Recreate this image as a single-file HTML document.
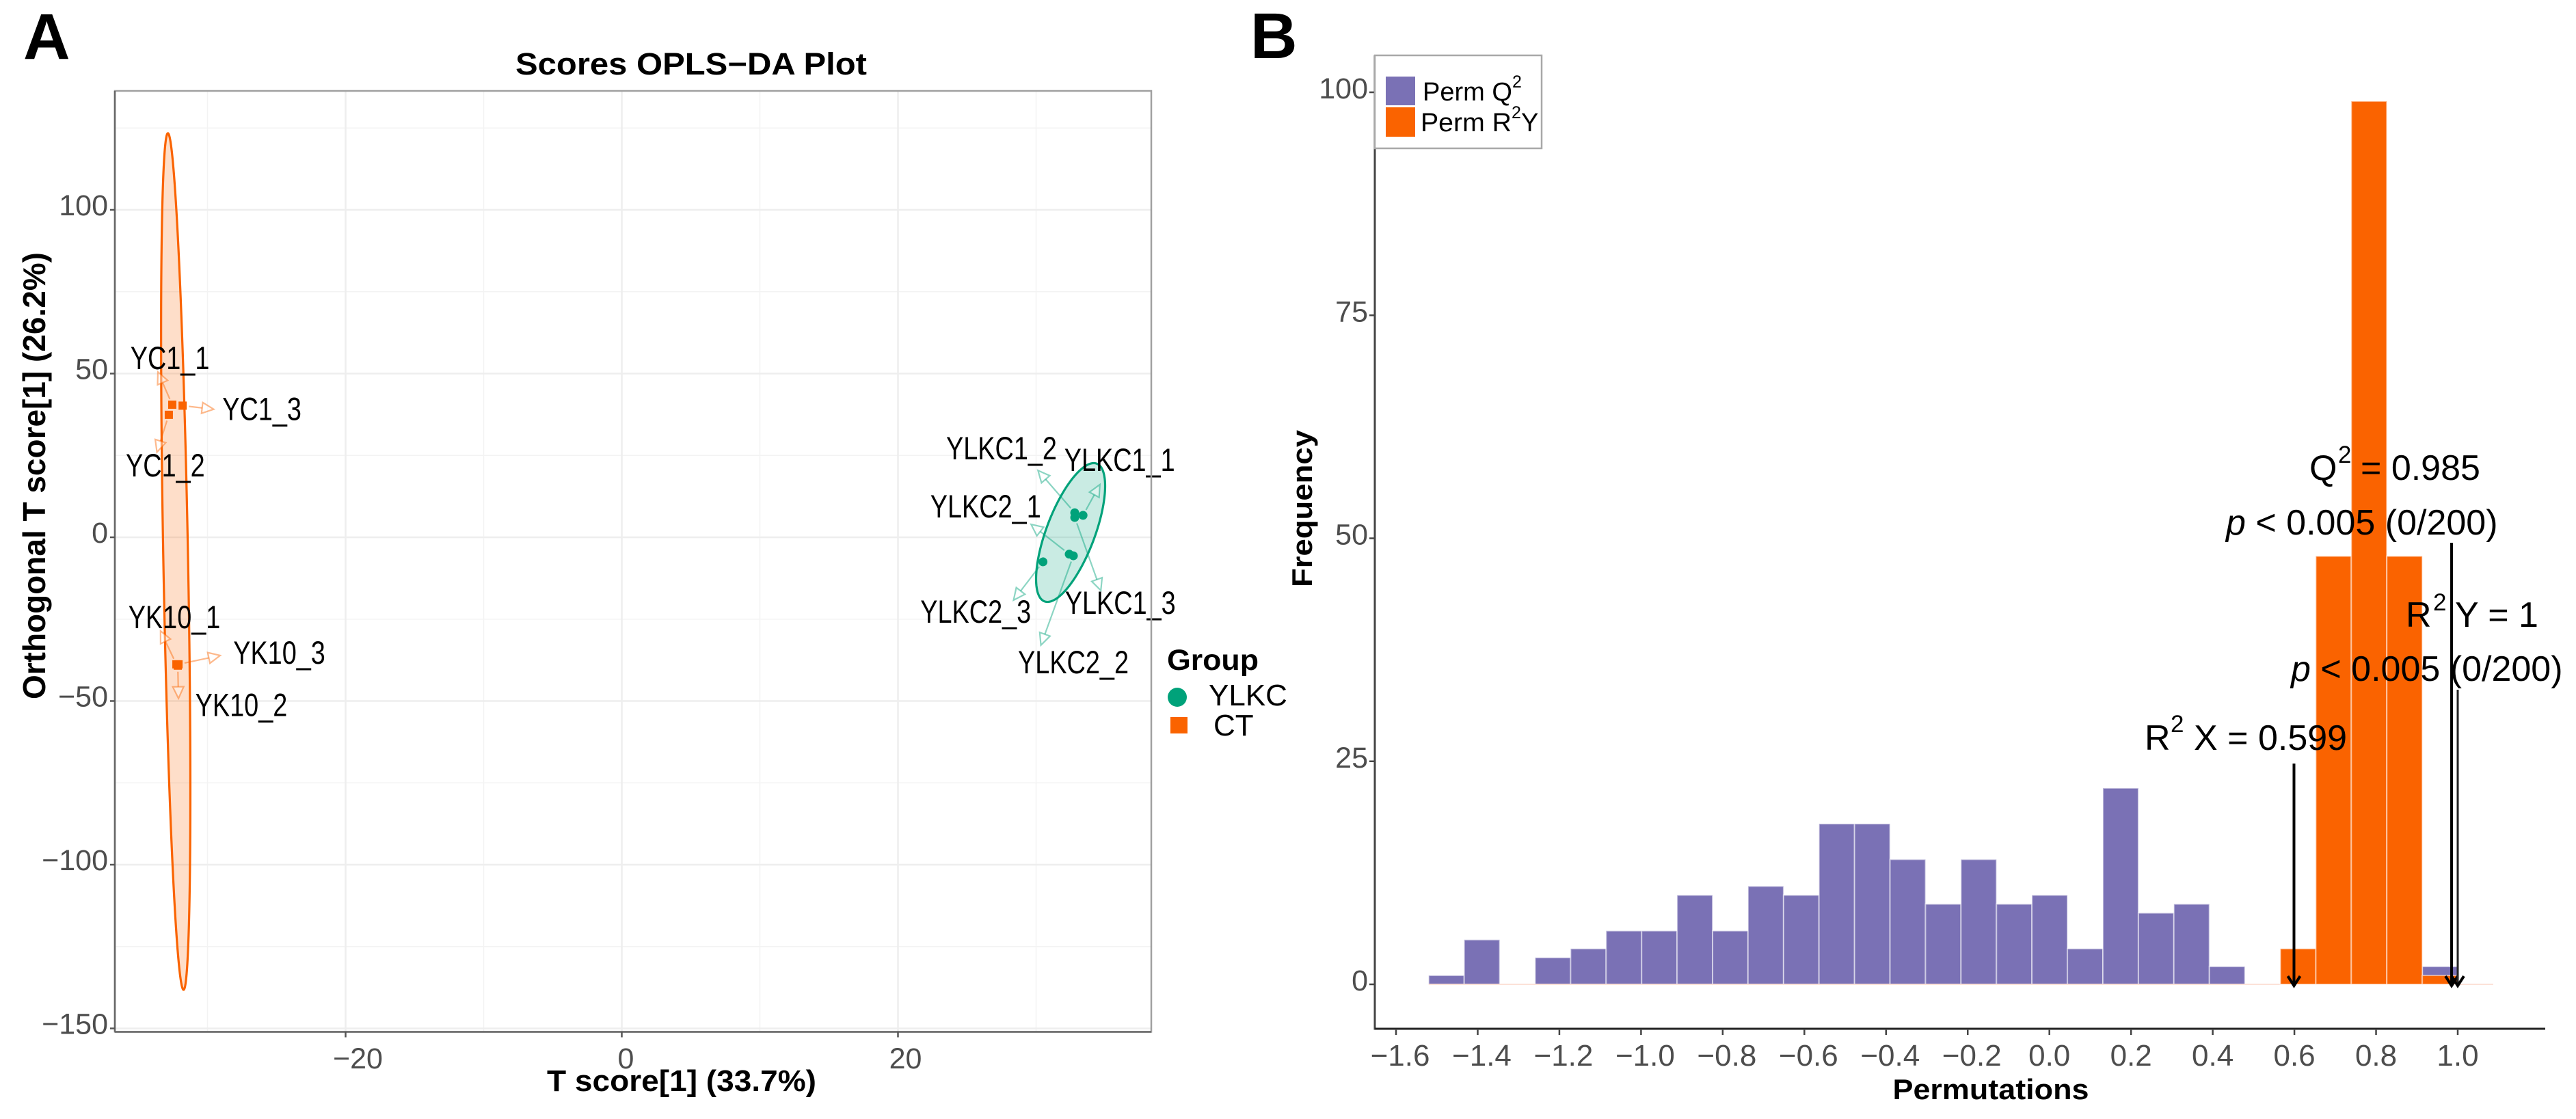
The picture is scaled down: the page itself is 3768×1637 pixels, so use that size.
<!DOCTYPE html>
<html lang="en">
<head>
<meta charset="utf-8">
<title>Scores OPLS-DA Plot and Permutation Test</title>
<style>
html,body{margin:0;padding:0;background:#fff;}
svg{display:block;font-family:"Liberation Sans",Arial,sans-serif;}
</style>
</head>
<body>
<svg id="figure" xmlns="http://www.w3.org/2000/svg" width="3768" height="1637" viewBox="0 0 3768 1637">
  <rect x="0" y="0" width="3768" height="1637" fill="#fff"/>
  <text x="34" y="86" font-size="95" font-weight="700" fill="#000">A</text>
  <text x="1829" y="85" font-size="95" font-weight="700" fill="#000">B</text>

  <g id="panelA"></g>
  <text x="1011" y="109" font-size="45" font-weight="700" text-anchor="middle" textLength="514" lengthAdjust="spacingAndGlyphs" fill="#000">Scores OPLS−DA Plot</text>
  <text x="66" y="696" font-size="46" font-weight="700" text-anchor="middle" textLength="654" lengthAdjust="spacingAndGlyphs" transform="rotate(-90 66 696)" fill="#000">Orthogonal T score[1] (26.2%)</text>
  <text x="997" y="1596" font-size="44" font-weight="700" text-anchor="middle" textLength="394" lengthAdjust="spacingAndGlyphs" fill="#000">T score[1] (33.7%)</text>

  <g>
    <text x="1707" y="980" font-size="43" font-weight="700" textLength="134" lengthAdjust="spacingAndGlyphs" fill="#000">Group</text>
    <ellipse cx="1722" cy="1020" rx="14" ry="14" fill="#00A27A"/>
    <text x="1768" y="1032" font-size="44" fill="#000">YLKC</text>
    <rect x="1712" y="1049" width="25" height="24" fill="#FA6300"/>
    <text x="1775" y="1076" font-size="44" fill="#000">CT</text>
  </g>

  <g id="panelB"></g>
  <text x="2912" y="1608" font-size="42" font-weight="700" text-anchor="middle" textLength="287" lengthAdjust="spacingAndGlyphs" fill="#000">Permutations</text>
  <text x="1919" y="744" font-size="42" font-weight="700" text-anchor="middle" textLength="230" lengthAdjust="spacingAndGlyphs" transform="rotate(-90 1919 744)" fill="#000">Frequency</text>

  <g>
    <rect x="2011" y="81" width="244" height="136" fill="#fff" stroke="#a8a8a8" stroke-width="2.5"/>
    <rect x="2027" y="112" width="43" height="42" fill="#7A71B5"/>
    <rect x="2027" y="157" width="43" height="43" fill="#FA6300"/>
    <text font-size="38" fill="#000"><tspan x="2081" y="147">Perm Q</tspan><tspan x="2212" y="128" font-size="25">2</tspan></text>
    <text font-size="38" fill="#000"><tspan x="2078" y="192" textLength="133" lengthAdjust="spacingAndGlyphs">Perm R</tspan><tspan x="2211" y="173" font-size="25">2</tspan><tspan x="2225" y="192">Y</tspan></text>
  </g>

  <g fill="#000">
    <text font-size="52"><tspan x="3378" y="702">Q</tspan><tspan x="3420" y="677" font-size="35">2</tspan><tspan x="3453" y="702">= 0.985</tspan></text>
    <text x="3256" y="782" font-size="52"><tspan font-style="italic">p</tspan> &lt; 0.005 (0/200)</text>
    <text font-size="52"><tspan x="3519" y="917">R</tspan><tspan x="3559" y="893" font-size="35">2</tspan><tspan x="3591" y="917">Y = 1</tspan></text>
    <text x="3351" y="996" font-size="52"><tspan font-style="italic">p</tspan> &lt; 0.005 (0/200)</text>
    <text font-size="52"><tspan x="3137" y="1097">R</tspan><tspan x="3175" y="1071" font-size="35">2</tspan><tspan x="3209" y="1097">X = 0.599</tspan></text>
  </g>
</svg>

<script>
// ---------- Panel A data ----------
var sampleNames = ['YC1_1','YC1_2','YC1_3','YK10_1','YK10_2','YK10_3','YLKC1_1','YLKC1_2','YLKC1_3','YLKC2_1','YLKC2_2','YLKC2_3'];
var sampleGroups = ['CT','CT','CT','CT','CT','CT','YLKC','YLKC','YLKC','YLKC','YLKC','YLKC'];
var tScores = [-32.55,-32.8,-31.8,-32.25,-32.15,-32.1,33.4,32.8,32.8,32.4,32.7,30.5];
var orthoScores = [40.5,37.4,40.2,-38.8,-39.2,-38.8,6.7,7.5,6.05,-5.15,-5.65,-7.5];
// arrow tips and labels, as offsets from each sample in score units
var arrowOffsetT = [-1.04,-0.86,2.25,-1.15,0.05,3.02,1.22,-2.66,1.89,-2.76,-2.35,-2.13];
var arrowOffsetO = [10.0,-11.4,-1.1,10.2,-10,2.7,9.4,12.9,-22.3,9.1,-27.3,-11.7];
var labelOffsetT = [-0.17,-0.25,5.74,-0.15,4.6,7.3,2.65,-5.3,3.3,-6.05,0,-4.87];
var labelOffsetO = [10.86,-18.8,-4.4,11.06,-15.4,0.2,13.6,16.3,-29.4,11.2,-35.9,-18.6];
// confidence ellipses
var ellipseGroups = ['CT','YLKC'];
var ellipseCenterT = [-32.3,32.5];
var ellipseCenterO = [-7.4,1.46];
var ellipseHalfT = [1.06,2.5];
var ellipseHalfO = [130.8,21.2];
var ellipseCorr = [-0.535,0.67];
// axis ticks
var tMajorTicks = [-20,0,20];
var tMinorTicks = [-30,-10,10,30];
var oMajorTicks = [100,50,0,-50,-100,-150];
var oMinorTicks = [125,75,25,-25,-75,-125];

// ---------- Panel B data ----------
var binStart = -1.52;
var binWidth = 0.0869;
var permQ2Counts = [1,5,0,3,4,6,6,10,6,11,10,18,18,14,9,14,9,10,4,22,8,9,2,0,0,0,0,0,2,0];
var permR2YCounts = [0,0,0,0,0,0,0,0,0,0,0,0,0,0,0,0,0,0,0,0,0,0,0,0,4,48,99,48,1,0];
var permXTicks = [-1.6,-1.4,-1.2,-1.0,-0.8,-0.6,-0.4,-0.2,0.0,0.2,0.4,0.6,0.8,1.0];
var permYTicks = [0,25,50,75,100];
var annotationNames = ['r2x','q2','r2y'];
var annotationValues = [0.599,0.985,1.0];

// ---------- helpers ----------
var NS = 'http://www.w3.org/2000/svg';
function make(parent, tag, attrs, text) {
  var el = document.createElementNS(NS, tag);
  for (var k in attrs) el.setAttribute(k, attrs[k]);
  if (text !== undefined) el.textContent = text;
  parent.appendChild(el);
  return el;
}
function minusText(v, digits) {
  var s = Math.abs(v).toFixed(digits);
  return (v < 0 ? '\u2212' : '') + s;
}
var COLORS = {CT:'#FA6300', YLKC:'#00A27A'};

// ---------- Panel A ----------
var A = document.getElementById('panelA');
var aBox = {left:168, right:1684, top:133, bottom:1509.5};
function xA(v){ return 909.5 + 20.2 * v; }
function yA(v){ return 786 - 4.79 * v; }

tMinorTicks.forEach(function(v){
  var el = make(A,'line',{x1:xA(v),x2:xA(v),y1:aBox.top,y2:aBox.bottom,stroke:'#F3F3F3','stroke-width':1.5});
  
  
});
oMinorTicks.forEach(function(v){
  var el = make(A,'line',{x1:aBox.left,x2:aBox.right,y1:yA(v),y2:yA(v),stroke:'#F3F3F3','stroke-width':1.5});
  
  
});
tMajorTicks.forEach(function(v){
  var el = make(A,'line',{x1:xA(v),x2:xA(v),y1:aBox.top,y2:aBox.bottom,stroke:'#EEEEEE','stroke-width':2.5});
  
  
});
oMajorTicks.forEach(function(v){
  var el = make(A,'line',{x1:aBox.left,x2:aBox.right,y1:yA(v),y2:yA(v),stroke:'#EEEEEE','stroke-width':2.5});
  
  
});

// ellipses
ellipseGroups.forEach(function(g,i){
  var phi = Math.acos(ellipseCorr[i]);
  var d = '';
  for (var k = 0; k < 240; k++) {
    var t = k / 240 * 2 * Math.PI;
    var px = xA(ellipseCenterT[i] + ellipseHalfT[i] * Math.cos(t));
    var py = yA(ellipseCenterO[i] + ellipseHalfO[i] * Math.cos(t - phi));
    d += (k ? 'L' : 'M') + px.toFixed(2) + ' ' + py.toFixed(2);
  }
  d += 'Z';
  var el = make(A,'path',{d:d,fill:COLORS[g],'fill-opacity':0.21,stroke:COLORS[g],'stroke-width':3.2});
  
  
});

// arrows, labels and points
sampleNames.forEach(function(name,i){
  var c = COLORS[sampleGroups[i]];
  var px = xA(tScores[i]), py = yA(orthoScores[i]);
  var tx = xA(tScores[i] + arrowOffsetT[i]), ty = yA(orthoScores[i] + arrowOffsetO[i]);
  var dx = tx - px, dy = ty - py, len = Math.sqrt(dx*dx + dy*dy) || 1;
  var ux = dx/len, uy = dy/len;
  var sx = px + ux*9, sy = py + uy*9;
  var hl = 17, hw = 8;
  var bx = tx - ux*hl, by = ty - uy*hl;
  var arrow = make(A,'g',{stroke:c,'stroke-opacity':0.45,'stroke-width':2.2,fill:'none'});
  
  
  make(arrow,'line',{x1:sx,y1:sy,x2:bx,y2:by});
  make(arrow,'polygon',{points:tx+','+ty+' '+(bx-uy*hw)+','+(by+ux*hw)+' '+(bx+uy*hw)+','+(by-ux*hw),fill:'#fff','fill-opacity':0.4});
});
sampleNames.forEach(function(name,i){
  var c = COLORS[sampleGroups[i]];
  var px = xA(tScores[i]), py = yA(orthoScores[i]);
  var mark;
  if (sampleGroups[i] === 'CT') {
    mark = make(A,'rect',{x:px-6,y:py-6,width:12,height:12,fill:c});
  } else {
    mark = make(A,'ellipse',{cx:px,cy:py,rx:6.5,ry:6.5,fill:c});
  }
  
  
});
sampleNames.forEach(function(name,i){
  var lab = make(A,'text',{x:xA(tScores[i]+labelOffsetT[i]),y:yA(orthoScores[i]+labelOffsetO[i]),'font-size':47,'text-anchor':'middle',fill:'#000'},name);
  
  
  lab.setAttribute('textLength', lab.getComputedTextLength()*0.805);
  lab.setAttribute('lengthAdjust', 'spacingAndGlyphs');
});

// frame
var frame = make(A,'rect',{x:aBox.left,y:aBox.top,width:aBox.right-aBox.left,height:aBox.bottom-aBox.top,fill:'none',stroke:'#a0a0a0','stroke-width':2.5});


var aLeft = make(A,'line',{x1:aBox.left,x2:aBox.left,y1:aBox.top,y2:aBox.bottom,stroke:'#666','stroke-width':2.5});


var aBottom = make(A,'line',{x1:aBox.left,x2:aBox.right,y1:aBox.bottom,y2:aBox.bottom,stroke:'#666','stroke-width':2.5});



// ticks
oMajorTicks.forEach(function(v){
  var tick = make(A,'line',{x1:aBox.left-7,x2:aBox.left,y1:yA(v),y2:yA(v),stroke:'#555','stroke-width':2.5});
  
  
  var lab = make(A,'text',{x:158,y:yA(v)+8,'font-size':43,'text-anchor':'end',fill:'#4D4D4D'},minusText(v,0));
  
  
});
tMajorTicks.forEach(function(v){
  var tick = make(A,'line',{x1:xA(v),x2:xA(v),y1:aBox.bottom,y2:aBox.bottom+8,stroke:'#555','stroke-width':2.5});
  
  
  var lab = make(A,'text',{x:xA(v)+(v<0?18:(v===0?6:11)),y:1563,'font-size':43,'text-anchor':'middle',fill:'#4D4D4D'},minusText(v,0));
  
  
});

// ---------- Panel B ----------
var B = document.getElementById('panelB');
var bBox = {left:2011, right:3723, top:81, bottom:1505};
function xB(v){ return 2997.7 + 597.3 * v; }
function yB(v){ return 1440 - 13.05 * v; }

permQ2Counts.forEach(function(n,i){
  if (n <= 0) return;
  var x0 = xB(binStart + i*binWidth), x1 = xB(binStart + (i+1)*binWidth);
  var bar = make(B,'rect',{x:x0,y:yB(n),width:x1-x0,height:yB(0)-yB(n),fill:'#7A71B5',stroke:'#fff','stroke-opacity':0.5,'stroke-width':2});
  
  
});
permR2YCounts.forEach(function(n,i){
  var x0 = xB(binStart + i*binWidth), x1 = xB(binStart + (i+1)*binWidth);
  var bar;
  if (n > 0) {
    bar = make(B,'rect',{x:x0,y:yB(n),width:x1-x0,height:yB(0)-yB(n),fill:'#FA6300',stroke:'#fff','stroke-opacity':0.5,'stroke-width':2});
  } else {
    bar = make(B,'line',{x1:x0,x2:x1,y1:yB(0),y2:yB(0),stroke:'#FCE2D8','stroke-width':2});
  }
  
  
});

// axes
var bY = make(B,'line',{x1:bBox.left,x2:bBox.left,y1:bBox.top,y2:bBox.bottom+1.5,stroke:'#444','stroke-width':3});


var bX = make(B,'line',{x1:bBox.left,x2:bBox.right,y1:bBox.bottom,y2:bBox.bottom,stroke:'#222','stroke-width':3});



permYTicks.forEach(function(v){
  var tick = make(B,'line',{x1:bBox.left-8,x2:bBox.left,y1:yB(v),y2:yB(v),stroke:'#444','stroke-width':2.5});
  
  
  var lab = make(B,'text',{x:2001,y:yB(v)+9,'font-size':43,'text-anchor':'end',fill:'#4D4D4D'},String(v));
  
  
});
permXTicks.forEach(function(v){
  var tick = make(B,'line',{x1:xB(v),x2:xB(v),y1:bBox.bottom,y2:bBox.bottom+9,stroke:'#444','stroke-width':2.5});
  
  
  var lab = make(B,'text',{x:xB(v)+(v<0?6:0),y:1559,'font-size':44,'text-anchor':'middle',fill:'#4D4D4D'},minusText(v,1));
  
  
});

// annotation arrows
var annotationTops = {r2x:1117, q2:794, r2y:1009};
annotationNames.forEach(function(nm,i){
  var x = xB(annotationValues[i]), tip = 1442, top = annotationTops[nm];
  var g = make(B,'g',{stroke:nm==='r2y'?'#222':'#000','stroke-width':nm==='r2y'?3:4,fill:'none'});
  
  
  make(g,'line',{x1:x,x2:x,y1:top,y2:tip});
  make(g,'polyline',{points:(x-9)+','+(tip-14)+' '+x+','+tip+' '+(x+9)+','+(tip-14),stroke:'#000','stroke-width':4});
});
</script>
</body>
</html>
